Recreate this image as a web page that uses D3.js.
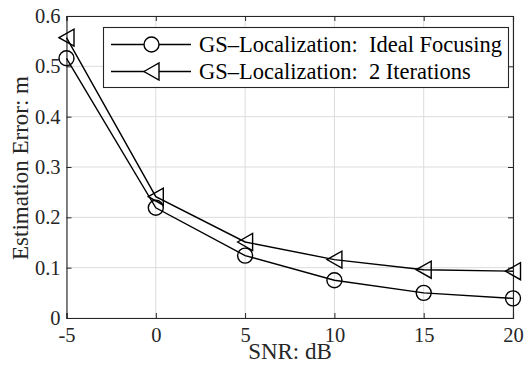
<!DOCTYPE html>
<html>
<head>
<meta charset="utf-8">
<script src="https://cdn.jsdelivr.net/npm/d3@7"></script>
<style>
  html, body { margin: 0; padding: 0; background: #fff; }
</style>
</head>
<body>
<svg id="chart" width="526" height="368"></svg>
<script>
// SNR sweep (dB) and localization error (m) for the two focusing schemes
const snrDb = [-5, 0, 5, 10, 15, 20];
const errIdealFocusing = [0.516, 0.219, 0.124, 0.075, 0.050, 0.039];
const errTwoIterations = [0.557, 0.241, 0.151, 0.116, 0.096, 0.093];
const seriesNames = ["GS\u2013Localization:  Ideal Focusing", "GS\u2013Localization:  2 Iterations"];
const xTicks = [-5, 0, 5, 10, 15, 20];
const yTicks = [0, 0.1, 0.2, 0.3, 0.4, 0.5, 0.6];
const xLabel = "SNR: dB";
const yLabel = "Estimation Error: m";

const FONT = "Liberation Serif";
const setFont = (sel, size) => sel.attr("font-family", FONT).style("font-family", FONT)
  .attr("font-size", size).style("font-size", size + "px");

const svg = d3.select("#chart");
const plot = { left: 66.5, right: 513, top: 16, bottom: 318 };
const ink = "#262626";

const x = d3.scaleLinear().domain([-5, 20]).range([plot.left, plot.right]);
const y = d3.scaleLinear().domain([0, 0.6]).range([plot.bottom, plot.top]);

// grid
const grid = svg.append("g");
grid.selectAll(".gx").data(xTicks).join("line")
  .attr("x1", d => x(d)).attr("x2", d => x(d))
  .attr("y1", plot.top).attr("y2", plot.bottom)
  .attr("stroke", "#dcdcdc").attr("stroke-width", 1);
grid.selectAll(".gy").data(yTicks).join("line")
  .attr("x1", plot.left).attr("x2", plot.right)
  .attr("y1", d => y(d)).attr("y2", d => y(d))
  .attr("stroke", "#dcdcdc").attr("stroke-width", 1);

// axes with inward ticks on all four sides
const tickLen = 5;
const axB = svg.append("g").attr("transform", `translate(0,${plot.bottom})`)
  .call(d3.axisBottom(x).tickValues(xTicks).tickSize(-tickLen).tickPadding(9).tickFormat(d => String(d)));
const axT = svg.append("g").attr("transform", `translate(0,${plot.top})`)
  .call(d3.axisTop(x).tickValues(xTicks).tickSize(-tickLen).tickFormat(""));
const axL = svg.append("g").attr("transform", `translate(${plot.left},0)`)
  .call(d3.axisLeft(y).tickValues(yTicks).tickSize(-tickLen).tickPadding(6).tickFormat(d => d === 0 ? "0" : d3.format(".1f")(d)));
const axR = svg.append("g").attr("transform", `translate(${plot.right},0)`)
  .call(d3.axisRight(y).tickValues(yTicks).tickSize(-tickLen).tickFormat(""));
[axB, axT, axL, axR].forEach(a => {
  a.attr("font-family", FONT).attr("font-size", 20);
  a.selectAll(".domain").attr("stroke", ink).attr("stroke-width", 1.1);
  a.selectAll(".tick line").attr("stroke", ink).attr("stroke-width", 1);
  setFont(a.selectAll("text"), 20.5).attr("fill", ink);
});

// axis labels
setFont(svg.append("text"), 23).attr("x", 290).attr("y", 359)
  .attr("text-anchor", "middle").attr("fill", ink).text(xLabel);
setFont(svg.append("text"), 23)
  .attr("transform", `translate(28,168) rotate(-90)`)
  .attr("text-anchor", "middle").attr("fill", ink).text(yLabel);

// markers
const circleR = 7.5;
const triPath = (w, h) => `M${-w / 2},0 L${w / 2},${-h / 2} L${w / 2},${h / 2} Z`;
const line = d3.line().x(d => x(d[0])).y(d => y(d[1]));

const seriesA = snrDb.map((s, i) => [s, errIdealFocusing[i]]);
const seriesB = snrDb.map((s, i) => [s, errTwoIterations[i]]);

svg.append("path").datum(seriesA).attr("d", line)
  .attr("fill", "none").attr("stroke", "#000").attr("stroke-width", 1.4);
svg.append("path").datum(seriesB).attr("d", line)
  .attr("fill", "none").attr("stroke", "#000").attr("stroke-width", 1.4);

svg.selectAll(".mA").data(seriesA).join("circle")
  .attr("cx", d => x(d[0])).attr("cy", d => y(d[1])).attr("r", circleR)
  .attr("fill", "none").attr("stroke", "#000").attr("stroke-width", 1.4);
svg.selectAll(".mB").data(seriesB).join("path")
  .attr("transform", d => `translate(${x(d[0])},${y(d[1])})`)
  .attr("d", triPath(15, 17))
  .attr("fill", "none").attr("stroke", "#000").attr("stroke-width", 1.4);

// legend
const lg = svg.append("g");
lg.append("rect").attr("x", 103.5).attr("y", 27.5).attr("width", 405).attr("height", 60)
  .attr("fill", "#fff").attr("stroke", ink).attr("stroke-width", 1.1);
const rowsY = [44.5, 71.5];
rowsY.forEach((ry, i) => {
  lg.append("line").attr("x1", 111).attr("x2", 191).attr("y1", ry).attr("y2", ry)
    .attr("stroke", "#000").attr("stroke-width", 1.4);
  if (i === 0) {
    lg.append("circle").attr("cx", 151.5).attr("cy", ry).attr("r", circleR)
      .attr("fill", "#fff").attr("stroke", "#000").attr("stroke-width", 1.4);
  } else {
    lg.append("path").attr("transform", `translate(151.5,${ry})`).attr("d", triPath(15, 17))
      .attr("fill", "#fff").attr("stroke", "#000").attr("stroke-width", 1.4);
  }
  setFont(lg.append("text"), 22.5).attr("x", 199).attr("y", ry).attr("dy", "0.33em")
    .style("white-space", "pre").attr("fill", "#000").text(seriesNames[i]);
});
</script>
</body>
</html>
